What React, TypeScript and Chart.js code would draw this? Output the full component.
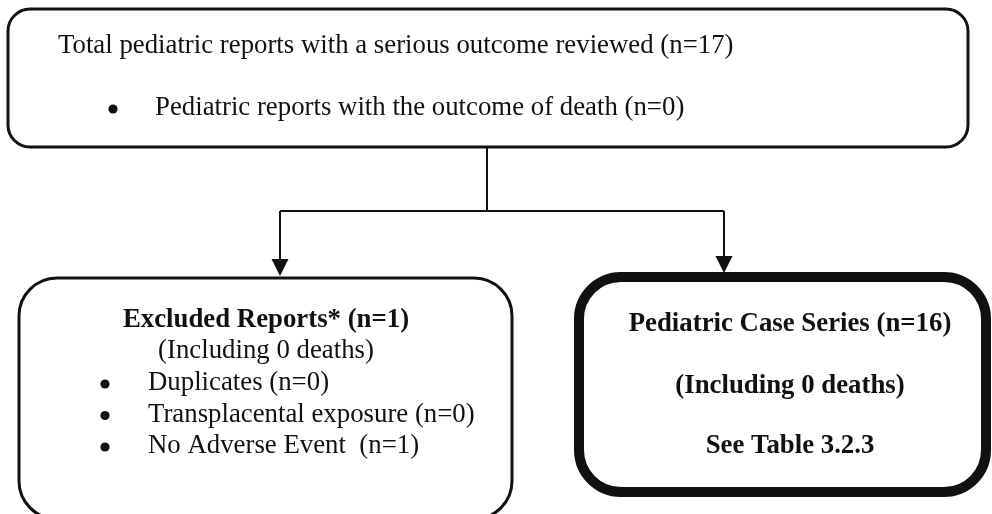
import React, { useEffect, useRef } from "react";
import { Chart, registerables } from "chart.js";

Chart.register(...registerables);

// ---- content (data) ----
const TOP_TITLE = "Total pediatric reports with a serious outcome reviewed";
const TOTAL_N = 17;
const TOP_BULLETS = ["Pediatric reports with the outcome of death"];
const TOP_BULLET_COUNTS = [0];

const EXCLUDED_TITLE = "Excluded Reports*";
const EXCLUDED_N = 1;
const EXCLUDED_DEATHS = 0;
const EXCLUDED_REASONS = ["Duplicates", "Transplacental exposure", "No Adverse Event "];
const EXCLUDED_COUNTS = [0, 0, 1];

const CASE_TITLE = "Pediatric Case Series";
const CASE_N = 16;
const CASE_DEATHS = 0;
const CASE_TABLE = "3.2.3";

// ---- layout (positions in a 992 x 514 value space) ----
const W = 992;
const H = 514;
const TOP_BOX = { x0: 8, y0: 9, x1: 968, y1: 147, r: 22, lw: 3 };
const LEFT_BOX = { x0: 19, y0: 278, x1: 512, y1: 519, r: 38, lw: 3 };
const RIGHT_BOX = { x0: 579, y0: 277, x1: 986, y1: 492, r: 42, lw: 10 };
const TRUNK_X = 487;
const SPLIT_Y = 211;
const LEFT_ARROW_X = 280;
const RIGHT_ARROW_X = 724;
const FONT_SIZE = 26.8;
const FONT = "'Liberation Serif', 'Times New Roman', serif";
const INK = "#111111";

const flowPlugin = {
  id: "flow",
  afterDraw(chart: any) {
    const ctx: CanvasRenderingContext2D = chart.ctx;
    const xs = chart.scales.x;
    const ys = chart.scales.y;
    const px = (v: number) => xs.getPixelForValue(v);
    const py = (v: number) => ys.getPixelForValue(v);

    const roundBox = (b: any) => {
      const x0 = px(b.x0), y0 = py(b.y0), x1 = px(b.x1), y1 = py(b.y1);
      ctx.save();
      ctx.beginPath();
      ctx.roundRect(x0, y0, x1 - x0, y1 - y0, b.r);
      ctx.fillStyle = "#ffffff";
      ctx.fill();
      ctx.lineWidth = b.lw;
      ctx.strokeStyle = INK;
      ctx.stroke();
      ctx.restore();
    };

    const line = (pts: number[][], lw = 2) => {
      ctx.save();
      ctx.beginPath();
      pts.forEach((p, i) => (i ? ctx.lineTo(px(p[0]), py(p[1])) : ctx.moveTo(px(p[0]), py(p[1]))));
      ctx.lineWidth = lw;
      ctx.strokeStyle = INK;
      ctx.stroke();
      ctx.restore();
    };

    const arrowHead = (x: number, tipY: number) => {
      ctx.save();
      ctx.beginPath();
      ctx.moveTo(px(x), py(tipY));
      ctx.lineTo(px(x - 8.5), py(tipY - 17));
      ctx.lineTo(px(x + 8.5), py(tipY - 17));
      ctx.closePath();
      ctx.fillStyle = INK;
      ctx.fill();
      ctx.restore();
    };

    const text = (s: string, x: number, y: number, align: CanvasTextAlign, bold = false) => {
      ctx.save();
      ctx.font = `${bold ? "bold " : ""}${FONT_SIZE}px ${FONT}`;
      ctx.fillStyle = INK;
      ctx.textAlign = align;
      ctx.textBaseline = "alphabetic";
      ctx.fillText(s, px(x), py(y));
      ctx.restore();
    };

    const bullet = (x: number, y: number) => {
      ctx.save();
      ctx.beginPath();
      ctx.arc(px(x), py(y), 4.6, 0, Math.PI * 2);
      ctx.fillStyle = INK;
      ctx.fill();
      ctx.restore();
    };

    // connectors
    line([[TRUNK_X, TOP_BOX.y1], [TRUNK_X, SPLIT_Y]]);
    line([[LEFT_ARROW_X, SPLIT_Y], [RIGHT_ARROW_X, SPLIT_Y]]);
    line([[LEFT_ARROW_X, SPLIT_Y], [LEFT_ARROW_X, 262]]);
    line([[RIGHT_ARROW_X, SPLIT_Y], [RIGHT_ARROW_X, 260]]);

    // boxes
    roundBox(TOP_BOX);
    roundBox(LEFT_BOX);
    roundBox(RIGHT_BOX);
    arrowHead(LEFT_ARROW_X, 276);
    arrowHead(RIGHT_ARROW_X, 273);

    // top box text
    text(`${TOP_TITLE} (n=${TOTAL_N})`, 58, 53, "left");
    TOP_BULLETS.forEach((b, i) => {
      bullet(113, 109 + i * 30);
      text(`${b} (n=${TOP_BULLET_COUNTS[i]})`, 155, 115 + i * 30, "left");
    });

    // left box text
    const lcx = 266;
    text(`${EXCLUDED_TITLE} (n=${EXCLUDED_N})`, lcx, 327, "center", true);
    text(`(Including ${EXCLUDED_DEATHS} deaths)`, lcx, 358, "center");
    EXCLUDED_REASONS.forEach((r, i) => {
      const by = 390 + i * 31.5;
      bullet(105, by - 6);
      text(`${r} (n=${EXCLUDED_COUNTS[i]})`, 148, by, "left");
    });

    // right box text
    const rcx = 790;
    text(`${CASE_TITLE} (n=${CASE_N})`, rcx, 331, "center", true);
    text(`(Including ${CASE_DEATHS} deaths)`, rcx, 393, "center", true);
    text(`See Table ${CASE_TABLE}`, rcx, 453, "center", true);
  },
};

export default function App() {
  const ref = useRef<HTMLCanvasElement>(null);
  useEffect(() => {
    if (!ref.current) return;
    const chart = new Chart(ref.current, {
      type: "scatter",
      data: { datasets: [{ data: [] }] },
      options: {
        animation: false,
        responsive: false,
        layout: { padding: 0 },
        plugins: { legend: { display: false }, tooltip: { enabled: false } },
        scales: {
          x: { type: "linear", min: 0, max: W, display: false },
          y: { type: "linear", min: 0, max: H, reverse: true, display: false },
        },
      },
      plugins: [flowPlugin],
    });
    return () => chart.destroy();
  }, []);
  return (
    <div style={{ position: "absolute", left: 0, top: 0, width: W, height: H, background: "#fff" }}>
      <canvas ref={ref} width={W} height={H} style={{ display: "block", width: W, height: H }} />
    </div>
  );
}
